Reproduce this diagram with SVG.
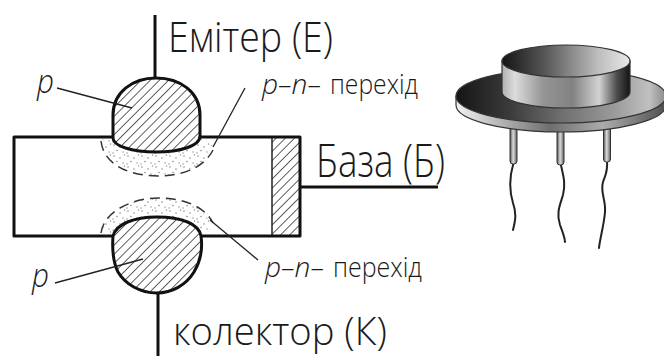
<svg xmlns="http://www.w3.org/2000/svg" width="664" height="356" viewBox="0 0 664 356">
  <defs>
    <style>
      .thick { fill: none; stroke: #111; stroke-width: 3; stroke-linejoin: round; }
      .thin { fill: none; stroke: #222; stroke-width: 1.3; }
      .dash { fill: none; stroke: #333; stroke-width: 1.5; stroke-dasharray: 10 6; }
      .lbl { font-family: "Open Sans", "Roboto", "Liberation Sans", sans-serif; font-weight: 300; fill: #1a1a1a; }
      .it { font-style: italic; }
      .wire { fill: none; stroke: #222; stroke-width: 2; stroke-linecap: round; }
      .pin { stroke: #333; stroke-width: 1; fill: url(#pinGrad); }
    </style>
    <pattern id="hatch" patternUnits="userSpaceOnUse" width="6.5" height="6.5" patternTransform="rotate(45)">
      <line x1="0" y1="-1" x2="0" y2="8" stroke="#1a1a1a" stroke-width="1.4"/>
    </pattern>
    <pattern id="stipple" patternUnits="userSpaceOnUse" width="14" height="11">
      <circle cx="2" cy="2" r="0.8" fill="#8a8a8a"/>
      <circle cx="8" cy="4" r="0.8" fill="#8a8a8a"/>
      <circle cx="12.5" cy="1" r="0.7" fill="#8a8a8a"/>
      <circle cx="5" cy="7.5" r="0.8" fill="#8a8a8a"/>
      <circle cx="11" cy="9" r="0.7" fill="#8a8a8a"/>
      <circle cx="1" cy="10" r="0.7" fill="#8a8a8a"/>
    </pattern>
    <linearGradient id="capTop" x1="502" y1="0" x2="630" y2="0" gradientUnits="userSpaceOnUse">
      <stop offset="0" stop-color="#141414"/>
      <stop offset="0.35" stop-color="#5a5a5a"/>
      <stop offset="0.75" stop-color="#bdbdbd"/>
      <stop offset="1" stop-color="#e8e8e8"/>
    </linearGradient>
    <linearGradient id="capSide" x1="502" y1="0" x2="630" y2="0" gradientUnits="userSpaceOnUse">
      <stop offset="0" stop-color="#b0b0b0"/>
      <stop offset="0.1" stop-color="#dcdcdc"/>
      <stop offset="0.32" stop-color="#959595"/>
      <stop offset="0.55" stop-color="#828282"/>
      <stop offset="0.76" stop-color="#d2d2d2"/>
      <stop offset="0.9" stop-color="#4a4a4a"/>
      <stop offset="1" stop-color="#141414"/>
    </linearGradient>
    <linearGradient id="flangeTop" x1="456" y1="0" x2="666" y2="0" gradientUnits="userSpaceOnUse">
      <stop offset="0" stop-color="#141414"/>
      <stop offset="0.25" stop-color="#3a3a3a"/>
      <stop offset="0.5" stop-color="#6e6e6e"/>
      <stop offset="0.75" stop-color="#9a9a9a"/>
      <stop offset="0.92" stop-color="#c0c0c0"/>
      <stop offset="1" stop-color="#8a8a8a"/>
    </linearGradient>
    <linearGradient id="flangeRim" x1="456" y1="0" x2="666" y2="0" gradientUnits="userSpaceOnUse">
      <stop offset="0" stop-color="#f2f2f2"/>
      <stop offset="0.2" stop-color="#b8b8b8"/>
      <stop offset="0.45" stop-color="#6e6e6e"/>
      <stop offset="0.7" stop-color="#acacac"/>
      <stop offset="1" stop-color="#505050"/>
    </linearGradient>
    <linearGradient id="pinGrad" x1="0" y1="0" x2="1" y2="0">
      <stop offset="0" stop-color="#505050"/>
      <stop offset="0.45" stop-color="#dcdcdc"/>
      <stop offset="1" stop-color="#606060"/>
    </linearGradient>
  </defs>

  <!-- semiconductor block: base body with hatched base contact strip -->
  <g id="base-body">
    <rect x="272" y="137" width="28" height="99" fill="url(#hatch)"/>
    <line x1="272" y1="137" x2="272" y2="236" stroke="#222" stroke-width="1.5"/>
    <path class="thick" d="M113,137 H14 V236 H113 M200,137 H300 V236 H201"/>
  </g>

  <!-- depletion zones -->
  <g id="junction-top">
    <path d="M101,140 C104,168 135,176 158,176 C185,176 205,166 213,146 L200,137 C200,146 180,152 156,152 C132,152 113,146 113,138 Z" fill="url(#stipple)"/>
    <path class="dash" d="M101,141 C104,168 135,176 158,176 C185,176 205,166 213,150"/>
  </g>
  <g id="junction-bottom">
    <path d="M101,235 C104,210 135,198 158,198 C185,198 205,207 213,228 L201,236 C199,224 182,217 157,217 C134,217 116,224 113,236 Z" fill="url(#stipple)"/>
    <path class="dash" d="M101,233 C104,210 135,198 158,198 C185,198 205,207 213,223"/>
  </g>

  <!-- emitter p-region -->
  <g id="emitter">
    <path d="M113,138 L113,115 C113,92 133,78 156,78 C180,78 200,92 200,115 L200,136 C200,146 180,152 156,152 C132,152 113,146 113,138 Z" class="thick" style="fill:url(#hatch)"/>
    <line class="thick" x1="155" y1="15" x2="155" y2="78"/>
  </g>

  <!-- collector p-region -->
  <g id="collector">
    <path d="M113,236 C116,224 134,217 157,217 C182,217 199,224 201,236 C203,250 200,262 194,272 C186,285 172,293 157,293 C140,293 125,284 118,272 C113,262 112,250 113,236 Z" class="thick" style="fill:url(#hatch)"/>
    <line class="thick" x1="158" y1="293" x2="158" y2="356"/>
  </g>

  <!-- base lead -->
  <g id="base-lead">
    <line class="thick" x1="300" y1="187" x2="438" y2="187"/>
  </g>

  <!-- leader lines -->
  <g id="connectors">
    <line class="thin" x1="57" y1="88" x2="132" y2="108"/>
    <line class="thin" x1="245" y1="88" x2="213" y2="147"/>
    <line class="thin" x1="55" y1="283" x2="143" y2="259"/>
    <line class="thin" x1="210" y1="220" x2="258" y2="260"/>
  </g>

  <!-- labels -->
  <g id="labels">
    <text class="lbl" x="168" y="52" font-size="42" textLength="165" lengthAdjust="spacingAndGlyphs">Емітер (Е)</text>
    <text class="lbl" x="316" y="177" font-size="46" textLength="129" lengthAdjust="spacingAndGlyphs">База (Б)</text>
    <text class="lbl" x="173" y="345" font-size="38" textLength="214" lengthAdjust="spacingAndGlyphs">колектор (К)</text>
    <text class="lbl it" x="37" y="93" font-size="33" textLength="17" lengthAdjust="spacingAndGlyphs">p</text>
    <text class="lbl it" x="32" y="287" font-size="33" textLength="17" lengthAdjust="spacingAndGlyphs">p</text>
    <text class="lbl it" x="262" y="93.5" font-size="27" textLength="59" lengthAdjust="spacingAndGlyphs">p–n–</text>
    <text class="lbl" x="330" y="93.5" font-size="27" textLength="88" lengthAdjust="spacingAndGlyphs">перехід</text>
    <text class="lbl it" x="265" y="277" font-size="27" textLength="59" lengthAdjust="spacingAndGlyphs">p–n–</text>
    <text class="lbl" x="333" y="277" font-size="27" textLength="89" lengthAdjust="spacingAndGlyphs">перехід</text>
  </g>

  <!-- transistor package -->
  <g id="package">
    <path class="wire" d="M513.5,163 C509,178 509,190 513,203 C517,214 515,222 513,230"/>
    <path class="wire" d="M560.5,163 C563,175 566,182 563,195 C560,205 556,213 560,225 C563,233 565,238 565,242"/>
    <path class="wire" d="M607,161 C608,172 605,176 603,182 C600,192 606,200 605,212 C604,225 600,238 599,248"/>
    <rect class="pin" x="510" y="126" width="7" height="38" rx="3"/>
    <rect class="pin" x="557" y="128" width="7" height="37" rx="3"/>
    <rect class="pin" x="603.5" y="126" width="7" height="36" rx="3"/>
    <path d="M456,96 V105 A105,27 0 0 0 666,105 V96 Z" fill="url(#flangeRim)" stroke="#333" stroke-width="1.2"/>
    <ellipse cx="561" cy="96" rx="105" ry="27" fill="url(#flangeTop)" stroke="#333" stroke-width="1.2"/>
    <path d="M502,61 V92 A64,16 0 0 0 630,92 V61 Z" fill="url(#capSide)" stroke="#333" stroke-width="1.2"/>
    <ellipse cx="566" cy="61" rx="64" ry="16" fill="url(#capTop)" stroke="#333" stroke-width="1.2"/>
  </g>
</svg>
